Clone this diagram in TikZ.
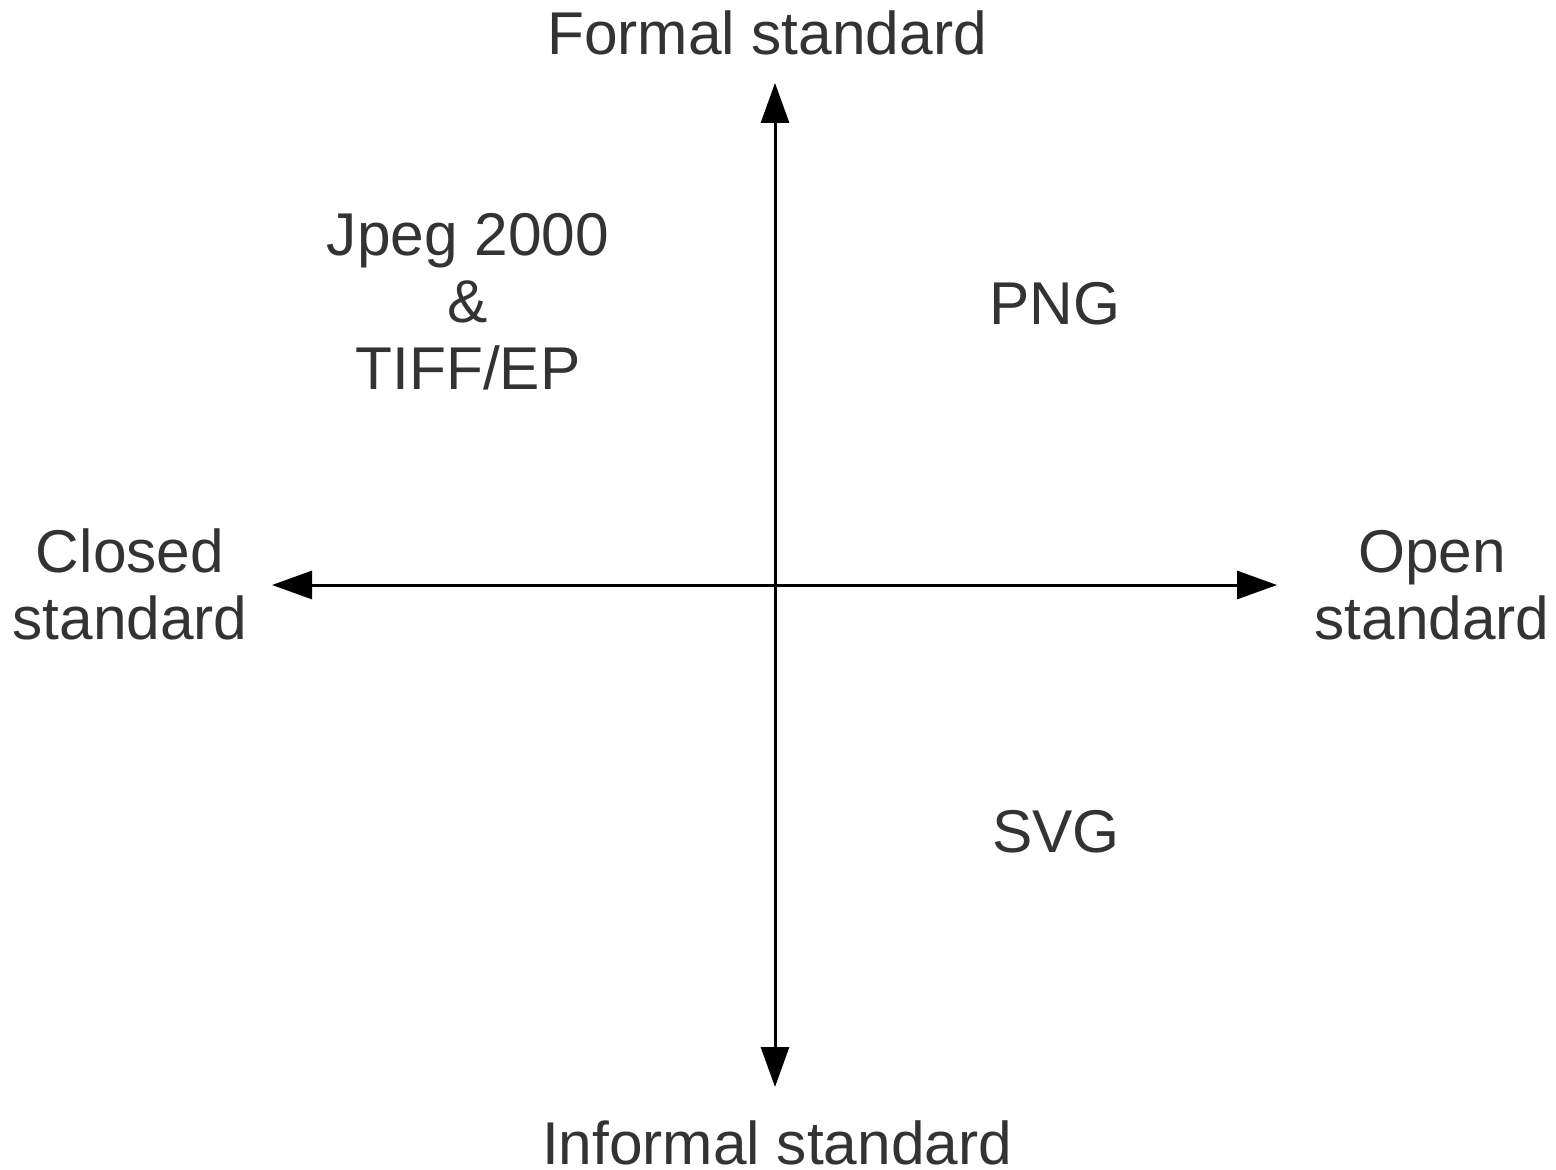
\documentclass[tikz,border=0pt]{standalone}
\usepackage{fontspec}
\setmainfont{Liberation Sans}
\usetikzlibrary{arrows.meta}
\definecolor{labelgray}{HTML}{333333}
\tikzset{
  axis/.style={line width=1.5pt, {Triangle[length=20pt,width=14pt]}-{Triangle[length=20pt,width=14pt]}},
  label/.style={text=labelgray, font=\fontsize{30.2}{33.5}\selectfont, inner sep=0pt, align=center, anchor=base}
}

\begin{document}
\begin{tikzpicture}[x=0.5pt, y=-0.5pt]
  \useasboundingbox[fill=white] (0,0) rectangle (1556,1170);
  \coordinate (top) at (775,83);
  \coordinate (bottom) at (775,1087);
  \coordinate (left) at (272,585);
  \coordinate (right) at (1277,585);
  \draw[axis] (bottom) -- (top);
  \draw[axis] (left) -- (right);
  % axis labels, anchored on the last baseline
  \node[label] (formal) at (767,55) {Formal standard};
  \node[label] (informal) at (777,1164) {Informal standard};
  \node[label] (closed) at (130,639) {Closed\\standard};
  \node[label] (open) at (1432,639) {Open\\standard};
  % formats
  \node[label] (jpeg) at (468,390) {Jpeg 2000\\\&\\TIFF/EP};
  \node[label] (png) at (1055,325) {PNG};
  \node[label] (svg) at (1056,852) {SVG};
\end{tikzpicture}
\end{document}
